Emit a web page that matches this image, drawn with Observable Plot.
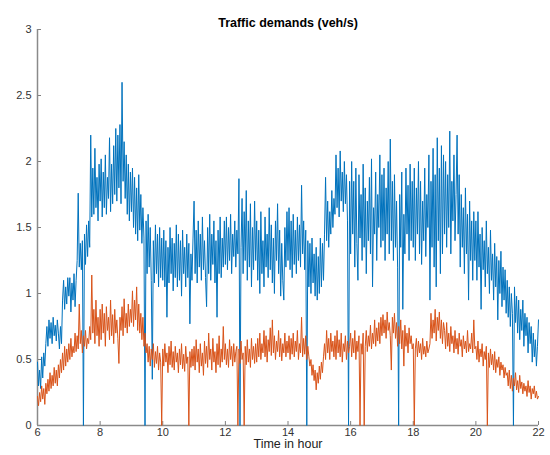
<!DOCTYPE html>
<html><head><meta charset="utf-8">
<script src="https://cdn.jsdelivr.net/npm/d3@7"></script>
<script src="https://cdn.jsdelivr.net/npm/@observablehq/plot@0.6"></script>
<style>body{margin:0;background:#fff}</style>
</head><body><div id="chart"></div>
<script>
const startHour = 6;
const samplesPerHour = 30;
// series 1 (blue): two rows per hour (6:00..21:58), final value at 22:00
const demandBlue = [
0.48,0.30,0.42,0.28,0.52,0.36,0.55,0.45,0.62,0.75,0.60,0.80,0.66,0.78,0.62,
0.82,0.68,0.76,0.64,0.80,0.70,0.58,0.75,0.62,0.95,1.10,0.88,1.05,0.92,1.12,
0.98,1.12,0.86,1.08,0.95,1.15,0.90,1.10,1.25,1.76,1.20,1.38,1.18,1.40,0.00,
1.45,1.22,1.52,1.28,1.55,1.35,2.20,1.58,1.95,1.60,2.10,1.65,1.88,1.55,1.98,
1.70,2.02,1.58,1.92,1.65,2.05,1.60,1.88,1.72,2.18,1.62,1.98,1.68,2.12,1.75,
2.25,1.70,2.20,1.80,2.28,1.68,2.60,1.85,2.15,1.72,2.05,1.60,1.98,1.55,1.92,
1.62,1.95,1.50,1.88,1.45,1.80,1.40,1.90,1.48,1.75,1.38,1.65,1.42,0.00,1.55,
1.15,1.60,1.20,1.50,1.10,0.35,1.40,1.08,1.52,1.15,1.45,1.05,1.50,1.12,1.42,
1.10,1.48,1.05,1.40,0.82,1.35,1.08,1.50,1.15,1.42,1.02,1.38,1.12,1.52,1.05,
1.45,1.10,1.40,0.98,1.48,1.15,1.35,1.05,1.45,1.12,1.38,0.77,1.30,1.10,1.42,
1.70,1.15,1.48,1.08,1.55,1.20,1.45,1.10,1.58,1.18,1.40,1.12,0.90,1.50,1.15,
1.60,1.10,1.45,1.22,1.55,1.08,1.40,0.82,1.48,1.15,1.58,1.12,1.42,1.20,1.55,
1.22,1.58,1.18,1.50,1.25,1.60,1.15,1.45,1.28,1.55,1.20,1.48,1.30,1.87,0.00,
1.35,1.72,1.15,1.62,1.25,1.78,1.10,1.55,1.20,1.68,1.05,1.50,1.18,1.70,1.25,
1.55,1.10,1.48,1.00,1.62,1.15,1.40,1.05,1.58,1.20,1.45,1.12,1.65,1.18,1.52,
1.08,1.42,1.00,1.55,1.25,1.68,1.15,1.48,0.98,1.38,1.10,0.95,1.50,1.20,1.62,
1.25,1.65,1.18,1.55,1.12,1.60,1.22,1.48,1.15,1.58,1.25,1.52,1.20,1.82,1.30,
1.55,1.18,1.48,0.00,1.40,1.05,1.38,1.00,1.42,1.08,1.30,0.98,1.35,0.95,1.28,
1.00,1.42,1.05,1.38,1.10,1.45,1.88,1.40,1.70,1.35,1.62,1.45,1.78,1.50,1.72,
1.60,2.05,1.65,1.95,1.58,2.08,1.70,1.92,1.62,2.00,1.68,1.90,1.55,0.00,1.85,
1.30,2.00,1.45,1.85,1.20,1.95,1.38,1.10,1.90,1.42,1.75,1.25,1.98,1.35,1.80,
1.15,1.70,1.40,1.88,1.30,2.02,1.05,1.65,1.45,1.92,1.25,1.75,1.50,2.05,1.35,
1.90,1.40,1.95,1.25,1.80,1.45,2.00,1.30,2.17,1.40,1.85,1.25,1.90,1.35,1.70,
1.20,0.00,1.75,1.35,1.92,0.88,1.60,1.30,1.95,1.45,1.82,1.25,1.98,1.40,1.85,
1.35,1.95,1.25,1.80,1.45,2.00,1.30,1.85,1.22,1.70,1.40,1.95,1.28,1.75,1.50,
2.05,0.95,1.85,1.35,2.10,1.20,1.90,1.05,2.18,1.40,1.95,1.15,2.12,1.30,2.05,
1.45,2.00,1.35,1.90,1.50,2.23,1.30,1.85,1.55,2.05,1.40,1.75,2.20,1.45,1.90,
1.20,1.75,1.35,1.65,1.15,1.80,1.30,1.60,0.95,1.70,1.25,1.55,1.10,1.62,1.25,
1.55,1.10,1.62,1.20,1.45,0.88,1.50,1.18,1.40,1.05,1.55,1.15,1.35,1.00,1.48,
1.10,1.30,0.95,1.38,1.05,1.28,0.80,1.25,1.00,1.32,0.90,1.20,0.95,1.18,0.85,
1.10,0.82,1.05,0.75,1.00,0.85,0.00,1.05,0.78,0.98,0.70,0.95,0.65,0.88,0.72,
0.95,0.60,0.85,0.68,0.82,0.55,0.78,0.62,0.75,0.48,0.70,0.52,0.65,0.45,0.60,
0.80
];
// series 2 (orange)
const demandOrange = [
0.22,0.15,0.25,0.18,0.30,0.20,0.28,0.16,0.32,0.24,0.35,0.26,0.40,0.28,0.38,
0.30,0.44,0.32,0.42,0.30,0.46,0.36,0.50,0.40,0.55,0.42,0.60,0.45,0.58,0.48,
0.62,0.50,0.66,0.52,0.60,0.55,0.70,0.56,0.68,0.58,0.92,0.62,0.72,0.55,0.68,
0.60,0.72,0.58,0.66,0.62,0.75,0.65,1.14,0.70,0.88,0.62,0.95,0.68,0.82,0.60,
0.88,0.65,0.92,0.70,0.85,0.60,0.90,0.72,0.82,0.65,0.95,0.68,0.84,0.62,0.88,
0.70,0.80,0.66,0.47,0.82,0.72,0.90,0.68,0.96,0.74,0.85,0.70,0.92,0.75,0.88,
0.78,1.02,0.75,0.95,0.80,1.05,0.72,0.92,0.70,0.85,0.65,0.82,0.60,0.70,0.55,
0.62,0.48,0.60,0.45,0.58,0.50,0.62,0.44,0.56,0.47,0.60,0.42,0.55,0.48,0.00,
0.58,0.45,0.62,0.48,0.55,0.40,0.60,0.46,0.64,0.44,0.56,0.42,0.60,0.48,0.55,
0.40,0.58,0.46,0.62,0.43,0.54,0.41,0.60,0.47,0.52,0.00,0.56,0.44,0.58,0.45,
0.60,0.42,0.65,0.48,0.58,0.40,0.62,0.45,0.55,0.38,0.64,0.47,0.60,0.44,0.70,
0.50,0.58,0.42,0.66,0.48,0.56,0.40,0.62,0.46,0.68,0.44,0.58,0.48,0.75,0.50,
0.62,0.46,0.58,0.44,0.65,0.50,0.60,0.45,0.62,0.48,0.56,0.60,0.00,0.58,0.47,
0.64,0.50,0.55,0.00,0.60,0.46,0.65,0.48,0.58,0.44,0.66,0.50,0.60,0.47,0.62,
0.48,0.66,0.52,0.70,0.50,0.62,0.55,0.72,0.52,0.68,0.48,0.65,0.56,0.74,0.53,
0.80,0.55,0.68,0.50,0.64,0.56,0.72,0.52,0.66,0.49,0.62,0.55,0.70,0.52,0.64,
0.55,0.68,0.50,0.66,0.54,0.70,0.52,0.64,0.56,0.72,0.50,0.62,0.55,0.82,0.52,
0.66,0.54,0.68,0.50,0.60,0.52,0.45,0.50,0.38,0.46,0.34,0.42,0.27,0.40,0.32,
0.45,0.35,0.48,0.40,0.52,0.62,0.50,0.72,0.55,0.66,0.50,0.70,0.56,0.64,0.52,
0.68,0.50,0.72,0.55,0.65,0.52,0.70,0.48,0.62,0.56,0.68,0.50,0.64,0.55,0.60,
0.70,0.52,0.66,0.55,0.72,0.50,0.64,0.56,0.68,0.00,0.62,0.54,0.70,0.00,0.60,
0.72,0.56,0.68,0.60,0.76,0.58,0.70,0.62,0.80,0.60,0.74,0.64,0.78,0.62,0.82,
0.68,0.84,0.70,0.80,0.66,0.86,0.72,0.78,0.68,0.42,0.82,0.70,0.85,0.66,0.78,
0.60,0.75,0.62,0.80,0.58,0.72,0.45,0.76,0.60,0.70,0.55,0.74,0.62,0.68,0.58,
0.62,0.00,0.58,0.66,0.52,0.64,0.55,0.62,0.50,0.66,0.54,0.60,0.52,0.64,0.55,
0.58,0.62,0.85,0.66,0.80,0.70,0.88,0.64,0.82,0.72,0.86,0.66,0.80,0.62,0.78,
0.72,0.58,0.78,0.60,0.70,0.56,0.75,0.62,0.68,0.55,0.72,0.58,0.66,0.54,0.70,
0.60,0.65,0.52,0.68,0.58,0.64,0.55,0.72,0.56,0.62,0.58,0.70,0.55,0.80,0.58,
0.60,0.50,0.64,0.48,0.58,0.52,0.62,0.45,0.56,0.50,0.60,0.00,0.55,0.44,0.58,
0.46,0.54,0.42,0.56,0.40,0.50,0.44,0.52,0.38,0.48,0.42,0.46,0.36,0.44,0.38,
0.40,0.30,0.42,0.28,0.38,0.26,0.36,0.30,0.40,0.27,0.34,0.25,0.38,0.28,0.33,
0.24,0.32,0.26,0.30,0.22,0.34,0.25,0.30,0.20,0.28,0.24,0.30,0.21,0.26,0.20,
0.22
];
const xTicks = [6, 8, 10, 12, 14, 16, 18, 20, 22];
const yTicks = [0, 0.5, 1, 1.5, 2, 2.5, 3];
const yTickLabels = ["0", "0.5", "1", "1.5", "2", "2.5", "3"];
const chartTitle = "Traffic demands (veh/s)";
const xLabel = "Time in hour";

const blueRows = demandBlue.map((v, i) => ({t: startHour + i / samplesPerHour, v}));
const orangeRows = demandOrange.map((v, i) => ({t: startHour + i / samplesPerHour, v}));

const chart = Plot.plot({
  width: 550, height: 455,
  marginLeft: 37, marginRight: 12, marginTop: 29, marginBottom: 30,
  x: {domain: [6, 22]},
  y: {domain: [0, 3]},
  style: {fontFamily: "'Liberation Sans', Arial, Helvetica, sans-serif", fontSize: "11px", color: "#333", background: "#fff"},
  marks: [
    Plot.axisY({ticks: yTicks, tickSize: -4, tickPadding: 10, tickFormat: d => yTickLabels[yTicks.indexOf(d)], label: null, stroke: "#7f7f7f"}),
    Plot.axisX({ticks: xTicks, tickSize: -4, tickPadding: 7, tickFormat: d => String(d), label: null, stroke: "#7f7f7f"}),
    Plot.ruleX([6], {stroke: "#8a8a8a", strokeWidth: 1.5}),
    Plot.ruleY([0], {stroke: "#8a8a8a", strokeWidth: 1.5}),
    Plot.lineY(blueRows, {x: "t", y: "v", stroke: "#0072BD", strokeWidth: 1}),
    Plot.lineY(orangeRows, {x: "t", y: "v", stroke: "#D95319", strokeWidth: 1}),
    Plot.text([chartTitle], {frameAnchor: "top", dy: -11, fontWeight: "bold", fontSize: 12.5, fill: "#000"}),
    Plot.text([xLabel], {frameAnchor: "bottom", dy: 22.5, fontSize: 12.5, fill: "#222"})
  ]
});
document.getElementById("chart").appendChild(chart);
</script>
</body></html>
